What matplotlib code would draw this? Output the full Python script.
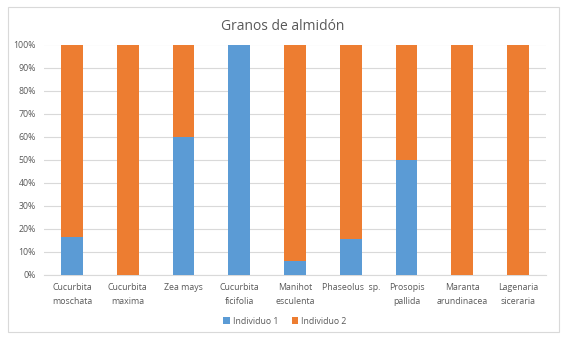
import matplotlib.pyplot as plt
import numpy as np
from matplotlib.patches import Rectangle
from matplotlib.ticker import PercentFormatter

CATEGORIES = [
    "Cucurbita\nmoschata",
    "Cucurbita\nmaxima",
    "Zea mays",
    "Cucurbita\nficifolia",
    "Manihot\nesculenta",
    "Phaseolus  sp.",
    "Prosopis\npallida",
    "Maranta\narundinacea",
    "Lagenaria\nsiceraria",
]
INDIVIDUO_1 = [16.5, 0, 60, 100, 6, 15.5, 50, 0, 0]
INDIVIDUO_2 = [100 - v for v in INDIVIDUO_1]

BLUE = "#5B9BD5"
ORANGE = "#ED7D31"
TEXT_COLOR = "#595959"
GRID_COLOR = "#D9D9D9"

plt.rcParams["font.family"] = ["Open Sans", "DejaVu Sans"]

fig = plt.figure(figsize=(5.67, 3.42), dpi=100)
W, H = 567, 342

# outer chart border
fig.patches.append(Rectangle((8 / W, 1 - 332 / H), 551 / W, 325 / H,
                             transform=fig.transFigure, fill=False,
                             edgecolor="#D9D9D9", linewidth=0.8))

ax = fig.add_axes([44 / W, 1 - 275 / H, 502 / W, 230.5 / H])

x = np.arange(len(CATEGORIES))
ax.bar(x, INDIVIDUO_1, width=0.39, color=BLUE, label="Individuo 1", zorder=3)
ax.bar(x, INDIVIDUO_2, width=0.39, bottom=INDIVIDUO_1, color=ORANGE,
       label="Individuo 2", zorder=3)

ax.set_xlim(-0.5, len(CATEGORIES) - 0.5)
ax.set_ylim(0, 100)
ax.set_yticks(np.arange(0, 101, 10))
ax.yaxis.set_major_formatter(PercentFormatter(decimals=0))
ax.set_xticks(x)
ax.set_xticklabels(CATEGORIES, fontsize=6.3, color=TEXT_COLOR, linespacing=1.6)
ax.tick_params(axis="y", labelsize=6.3, colors=TEXT_COLOR, length=0, pad=6)
ax.tick_params(axis="x", length=0, pad=6)
ax.grid(axis="y", color=GRID_COLOR, linewidth=0.8, zorder=0)
for side in ["top", "right", "left"]:
    ax.spines[side].set_visible(False)
ax.spines["bottom"].set_color(GRID_COLOR)

fig.text(283 / W, 1 - 26 / H, "Granos de almidón", ha="center", va="center",
         fontsize=10, color=TEXT_COLOR)

fig.legend(loc="center", bbox_to_anchor=(285 / W, 1 - 321 / H), ncol=2,
           frameon=False, fontsize=6.3, handlelength=0.7, handleheight=0.7,
           columnspacing=1.5, handletextpad=0.4, labelcolor=TEXT_COLOR)

fig.savefig("out.png", dpi=100)
